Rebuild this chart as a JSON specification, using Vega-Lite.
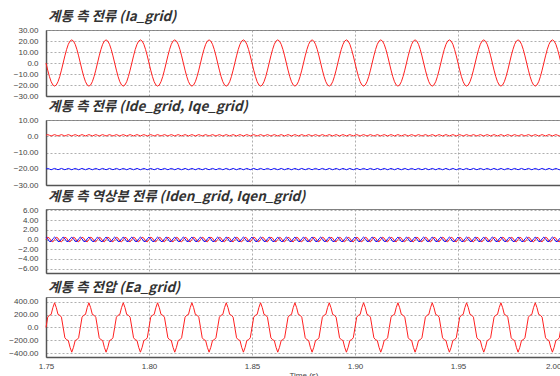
{
"$schema": "https://vega.github.io/schema/vega-lite/v6.json",
"background": "white",
"padding": {"left": 8, "top": 9, "right": 0, "bottom": 0},
"config": {
  "view": {"stroke": "#808080", "strokeWidth": 1},
  "axis": {"labelFont": "Liberation Sans", "labelFontSize": 8, "labelColor": "#444", "gridColor": "#9a9a9a", "gridDash": [2, 2], "gridWidth": 0.8, "ticks": false, "domain": true, "domainColor": "#555", "domainWidth": 1.5, "labelPadding": 8},
  "title": {"font": "Noto Sans CJK KR", "fontSize": 13.5, "fontStyle": "italic", "fontWeight": "bold", "color": "#333", "anchor": "start", "frame": "group", "offset": 3, "dx": 2},
  "line": {"strokeWidth": 1}
},
"datasets": {"w": [
{"t":1.75,"a":0,"e":0,"d":0.6,"q":-20.2,"m":0,"n":0.5},
{"t":1.75083,"a":-6.49,"e":160.4,"d":1,"q":-19.8,"m":0.48,"n":0.15},
{"t":1.75167,"a":-12.34,"e":191,"d":0.6,"q":-20.2,"m":0.29,"n":-0.4},
{"t":1.7525,"a":-16.99,"e":202.9,"d":0.2,"q":-20.6,"m":-0.29,"n":-0.4},
{"t":1.75333,"a":-19.97,"e":309.1,"d":0.6,"q":-20.2,"m":-0.48,"n":0.15},
{"t":1.75417,"a":-21,"e":385,"d":1,"q":-19.8,"m":0,"n":0.5},
{"t":1.755,"a":-19.97,"e":309.1,"d":0.6,"q":-20.2,"m":0.48,"n":0.15},
{"t":1.75583,"a":-16.99,"e":202.9,"d":0.2,"q":-20.6,"m":0.29,"n":-0.4},
{"t":1.75667,"a":-12.34,"e":191,"d":0.6,"q":-20.2,"m":-0.29,"n":-0.4},
{"t":1.7575,"a":-6.49,"e":160.4,"d":1,"q":-19.8,"m":-0.48,"n":0.15},
{"t":1.75833,"a":0,"e":0,"d":0.6,"q":-20.2,"m":0,"n":0.5},
{"t":1.75917,"a":6.49,"e":-160.4,"d":0.2,"q":-20.6,"m":0.48,"n":0.15},
{"t":1.76,"a":12.34,"e":-191,"d":0.6,"q":-20.2,"m":0.29,"n":-0.4},
{"t":1.76083,"a":16.99,"e":-202.9,"d":1,"q":-19.8,"m":-0.29,"n":-0.4},
{"t":1.76167,"a":19.97,"e":-309.1,"d":0.6,"q":-20.2,"m":-0.48,"n":0.15},
{"t":1.7625,"a":21,"e":-385,"d":0.2,"q":-20.6,"m":0,"n":0.5},
{"t":1.76333,"a":19.97,"e":-309.1,"d":0.6,"q":-20.2,"m":0.48,"n":0.15},
{"t":1.76417,"a":16.99,"e":-202.9,"d":1,"q":-19.8,"m":0.29,"n":-0.4},
{"t":1.765,"a":12.34,"e":-191,"d":0.6,"q":-20.2,"m":-0.29,"n":-0.4},
{"t":1.76583,"a":6.49,"e":-160.4,"d":0.2,"q":-20.6,"m":-0.48,"n":0.15},
{"t":1.76667,"a":0,"e":0,"d":0.6,"q":-20.2,"m":0,"n":0.5},
{"t":1.7675,"a":-6.49,"e":160.4,"d":1,"q":-19.8,"m":0.48,"n":0.15},
{"t":1.76833,"a":-12.34,"e":191,"d":0.6,"q":-20.2,"m":0.29,"n":-0.4},
{"t":1.76917,"a":-16.99,"e":202.9,"d":0.2,"q":-20.6,"m":-0.29,"n":-0.4},
{"t":1.77,"a":-19.97,"e":309.1,"d":0.6,"q":-20.2,"m":-0.48,"n":0.15},
{"t":1.77083,"a":-21,"e":385,"d":1,"q":-19.8,"m":0,"n":0.5},
{"t":1.77167,"a":-19.97,"e":309.1,"d":0.6,"q":-20.2,"m":0.48,"n":0.15},
{"t":1.7725,"a":-16.99,"e":202.9,"d":0.2,"q":-20.6,"m":0.29,"n":-0.4},
{"t":1.77333,"a":-12.34,"e":191,"d":0.6,"q":-20.2,"m":-0.29,"n":-0.4},
{"t":1.77417,"a":-6.49,"e":160.4,"d":1,"q":-19.8,"m":-0.48,"n":0.15},
{"t":1.775,"a":0,"e":0,"d":0.6,"q":-20.2,"m":0,"n":0.5},
{"t":1.77583,"a":6.49,"e":-160.4,"d":0.2,"q":-20.6,"m":0.48,"n":0.15},
{"t":1.77667,"a":12.34,"e":-191,"d":0.6,"q":-20.2,"m":0.29,"n":-0.4},
{"t":1.7775,"a":16.99,"e":-202.9,"d":1,"q":-19.8,"m":-0.29,"n":-0.4},
{"t":1.77833,"a":19.97,"e":-309.1,"d":0.6,"q":-20.2,"m":-0.48,"n":0.15},
{"t":1.77917,"a":21,"e":-385,"d":0.2,"q":-20.6,"m":0,"n":0.5},
{"t":1.78,"a":19.97,"e":-309.1,"d":0.6,"q":-20.2,"m":0.48,"n":0.15},
{"t":1.78083,"a":16.99,"e":-202.9,"d":1,"q":-19.8,"m":0.29,"n":-0.4},
{"t":1.78167,"a":12.34,"e":-191,"d":0.6,"q":-20.2,"m":-0.29,"n":-0.4},
{"t":1.7825,"a":6.49,"e":-160.4,"d":0.2,"q":-20.6,"m":-0.48,"n":0.15},
{"t":1.78333,"a":0,"e":0,"d":0.6,"q":-20.2,"m":0,"n":0.5},
{"t":1.78417,"a":-6.49,"e":160.4,"d":1,"q":-19.8,"m":0.48,"n":0.15},
{"t":1.785,"a":-12.34,"e":191,"d":0.6,"q":-20.2,"m":0.29,"n":-0.4},
{"t":1.78583,"a":-16.99,"e":202.9,"d":0.2,"q":-20.6,"m":-0.29,"n":-0.4},
{"t":1.78667,"a":-19.97,"e":309.1,"d":0.6,"q":-20.2,"m":-0.48,"n":0.15},
{"t":1.7875,"a":-21,"e":385,"d":1,"q":-19.8,"m":0,"n":0.5},
{"t":1.78833,"a":-19.97,"e":309.1,"d":0.6,"q":-20.2,"m":0.48,"n":0.15},
{"t":1.78917,"a":-16.99,"e":202.9,"d":0.2,"q":-20.6,"m":0.29,"n":-0.4},
{"t":1.79,"a":-12.34,"e":191,"d":0.6,"q":-20.2,"m":-0.29,"n":-0.4},
{"t":1.79083,"a":-6.49,"e":160.4,"d":1,"q":-19.8,"m":-0.48,"n":0.15},
{"t":1.79167,"a":0,"e":0,"d":0.6,"q":-20.2,"m":0,"n":0.5},
{"t":1.7925,"a":6.49,"e":-160.4,"d":0.2,"q":-20.6,"m":0.48,"n":0.15},
{"t":1.79333,"a":12.34,"e":-191,"d":0.6,"q":-20.2,"m":0.29,"n":-0.4},
{"t":1.79417,"a":16.99,"e":-202.9,"d":1,"q":-19.8,"m":-0.29,"n":-0.4},
{"t":1.795,"a":19.97,"e":-309.1,"d":0.6,"q":-20.2,"m":-0.48,"n":0.15},
{"t":1.79583,"a":21,"e":-385,"d":0.2,"q":-20.6,"m":0,"n":0.5},
{"t":1.79667,"a":19.97,"e":-309.1,"d":0.6,"q":-20.2,"m":0.48,"n":0.15},
{"t":1.7975,"a":16.99,"e":-202.9,"d":1,"q":-19.8,"m":0.29,"n":-0.4},
{"t":1.79833,"a":12.34,"e":-191,"d":0.6,"q":-20.2,"m":-0.29,"n":-0.4},
{"t":1.79917,"a":6.49,"e":-160.4,"d":0.2,"q":-20.6,"m":-0.48,"n":0.15},
{"t":1.8,"a":0,"e":0,"d":0.6,"q":-20.2,"m":0,"n":0.5},
{"t":1.80083,"a":-6.49,"e":160.4,"d":1,"q":-19.8,"m":0.48,"n":0.15},
{"t":1.80167,"a":-12.34,"e":191,"d":0.6,"q":-20.2,"m":0.29,"n":-0.4},
{"t":1.8025,"a":-16.99,"e":202.9,"d":0.2,"q":-20.6,"m":-0.29,"n":-0.4},
{"t":1.80333,"a":-19.97,"e":309.1,"d":0.6,"q":-20.2,"m":-0.48,"n":0.15},
{"t":1.80417,"a":-21,"e":385,"d":1,"q":-19.8,"m":0,"n":0.5},
{"t":1.805,"a":-19.97,"e":309.1,"d":0.6,"q":-20.2,"m":0.48,"n":0.15},
{"t":1.80583,"a":-16.99,"e":202.9,"d":0.2,"q":-20.6,"m":0.29,"n":-0.4},
{"t":1.80667,"a":-12.34,"e":191,"d":0.6,"q":-20.2,"m":-0.29,"n":-0.4},
{"t":1.8075,"a":-6.49,"e":160.4,"d":1,"q":-19.8,"m":-0.48,"n":0.15},
{"t":1.80833,"a":0,"e":0,"d":0.6,"q":-20.2,"m":0,"n":0.5},
{"t":1.80917,"a":6.49,"e":-160.4,"d":0.2,"q":-20.6,"m":0.48,"n":0.15},
{"t":1.81,"a":12.34,"e":-191,"d":0.6,"q":-20.2,"m":0.29,"n":-0.4},
{"t":1.81083,"a":16.99,"e":-202.9,"d":1,"q":-19.8,"m":-0.29,"n":-0.4},
{"t":1.81167,"a":19.97,"e":-309.1,"d":0.6,"q":-20.2,"m":-0.48,"n":0.15},
{"t":1.8125,"a":21,"e":-385,"d":0.2,"q":-20.6,"m":0,"n":0.5},
{"t":1.81333,"a":19.97,"e":-309.1,"d":0.6,"q":-20.2,"m":0.48,"n":0.15},
{"t":1.81417,"a":16.99,"e":-202.9,"d":1,"q":-19.8,"m":0.29,"n":-0.4},
{"t":1.815,"a":12.34,"e":-191,"d":0.6,"q":-20.2,"m":-0.29,"n":-0.4},
{"t":1.81583,"a":6.49,"e":-160.4,"d":0.2,"q":-20.6,"m":-0.48,"n":0.15},
{"t":1.81667,"a":0,"e":0,"d":0.6,"q":-20.2,"m":0,"n":0.5},
{"t":1.8175,"a":-6.49,"e":160.4,"d":1,"q":-19.8,"m":0.48,"n":0.15},
{"t":1.81833,"a":-12.34,"e":191,"d":0.6,"q":-20.2,"m":0.29,"n":-0.4},
{"t":1.81917,"a":-16.99,"e":202.9,"d":0.2,"q":-20.6,"m":-0.29,"n":-0.4},
{"t":1.82,"a":-19.97,"e":309.1,"d":0.6,"q":-20.2,"m":-0.48,"n":0.15},
{"t":1.82083,"a":-21,"e":385,"d":1,"q":-19.8,"m":0,"n":0.5},
{"t":1.82167,"a":-19.97,"e":309.1,"d":0.6,"q":-20.2,"m":0.48,"n":0.15},
{"t":1.8225,"a":-16.99,"e":202.9,"d":0.2,"q":-20.6,"m":0.29,"n":-0.4},
{"t":1.82333,"a":-12.34,"e":191,"d":0.6,"q":-20.2,"m":-0.29,"n":-0.4},
{"t":1.82417,"a":-6.49,"e":160.4,"d":1,"q":-19.8,"m":-0.48,"n":0.15},
{"t":1.825,"a":0,"e":0,"d":0.6,"q":-20.2,"m":0,"n":0.5},
{"t":1.82583,"a":6.49,"e":-160.4,"d":0.2,"q":-20.6,"m":0.48,"n":0.15},
{"t":1.82667,"a":12.34,"e":-191,"d":0.6,"q":-20.2,"m":0.29,"n":-0.4},
{"t":1.8275,"a":16.99,"e":-202.9,"d":1,"q":-19.8,"m":-0.29,"n":-0.4},
{"t":1.82833,"a":19.97,"e":-309.1,"d":0.6,"q":-20.2,"m":-0.48,"n":0.15},
{"t":1.82917,"a":21,"e":-385,"d":0.2,"q":-20.6,"m":0,"n":0.5},
{"t":1.83,"a":19.97,"e":-309.1,"d":0.6,"q":-20.2,"m":0.48,"n":0.15},
{"t":1.83083,"a":16.99,"e":-202.9,"d":1,"q":-19.8,"m":0.29,"n":-0.4},
{"t":1.83167,"a":12.34,"e":-191,"d":0.6,"q":-20.2,"m":-0.29,"n":-0.4},
{"t":1.8325,"a":6.49,"e":-160.4,"d":0.2,"q":-20.6,"m":-0.48,"n":0.15},
{"t":1.83333,"a":0,"e":0,"d":0.6,"q":-20.2,"m":0,"n":0.5},
{"t":1.83417,"a":-6.49,"e":160.4,"d":1,"q":-19.8,"m":0.48,"n":0.15},
{"t":1.835,"a":-12.34,"e":191,"d":0.6,"q":-20.2,"m":0.29,"n":-0.4},
{"t":1.83583,"a":-16.99,"e":202.9,"d":0.2,"q":-20.6,"m":-0.29,"n":-0.4},
{"t":1.83667,"a":-19.97,"e":309.1,"d":0.6,"q":-20.2,"m":-0.48,"n":0.15},
{"t":1.8375,"a":-21,"e":385,"d":1,"q":-19.8,"m":0,"n":0.5},
{"t":1.83833,"a":-19.97,"e":309.1,"d":0.6,"q":-20.2,"m":0.48,"n":0.15},
{"t":1.83917,"a":-16.99,"e":202.9,"d":0.2,"q":-20.6,"m":0.29,"n":-0.4},
{"t":1.84,"a":-12.34,"e":191,"d":0.6,"q":-20.2,"m":-0.29,"n":-0.4},
{"t":1.84083,"a":-6.49,"e":160.4,"d":1,"q":-19.8,"m":-0.48,"n":0.15},
{"t":1.84167,"a":0,"e":0,"d":0.6,"q":-20.2,"m":0,"n":0.5},
{"t":1.8425,"a":6.49,"e":-160.4,"d":0.2,"q":-20.6,"m":0.48,"n":0.15},
{"t":1.84333,"a":12.34,"e":-191,"d":0.6,"q":-20.2,"m":0.29,"n":-0.4},
{"t":1.84417,"a":16.99,"e":-202.9,"d":1,"q":-19.8,"m":-0.29,"n":-0.4},
{"t":1.845,"a":19.97,"e":-309.1,"d":0.6,"q":-20.2,"m":-0.48,"n":0.15},
{"t":1.84583,"a":21,"e":-385,"d":0.2,"q":-20.6,"m":0,"n":0.5},
{"t":1.84667,"a":19.97,"e":-309.1,"d":0.6,"q":-20.2,"m":0.48,"n":0.15},
{"t":1.8475,"a":16.99,"e":-202.9,"d":1,"q":-19.8,"m":0.29,"n":-0.4},
{"t":1.84833,"a":12.34,"e":-191,"d":0.6,"q":-20.2,"m":-0.29,"n":-0.4},
{"t":1.84917,"a":6.49,"e":-160.4,"d":0.2,"q":-20.6,"m":-0.48,"n":0.15},
{"t":1.85,"a":0,"e":0,"d":0.6,"q":-20.2,"m":0,"n":0.5},
{"t":1.85083,"a":-6.49,"e":160.4,"d":1,"q":-19.8,"m":0.48,"n":0.15},
{"t":1.85167,"a":-12.34,"e":191,"d":0.6,"q":-20.2,"m":0.29,"n":-0.4},
{"t":1.8525,"a":-16.99,"e":202.9,"d":0.2,"q":-20.6,"m":-0.29,"n":-0.4},
{"t":1.85333,"a":-19.97,"e":309.1,"d":0.6,"q":-20.2,"m":-0.48,"n":0.15},
{"t":1.85417,"a":-21,"e":385,"d":1,"q":-19.8,"m":0,"n":0.5},
{"t":1.855,"a":-19.97,"e":309.1,"d":0.6,"q":-20.2,"m":0.48,"n":0.15},
{"t":1.85583,"a":-16.99,"e":202.9,"d":0.2,"q":-20.6,"m":0.29,"n":-0.4},
{"t":1.85667,"a":-12.34,"e":191,"d":0.6,"q":-20.2,"m":-0.29,"n":-0.4},
{"t":1.8575,"a":-6.49,"e":160.4,"d":1,"q":-19.8,"m":-0.48,"n":0.15},
{"t":1.85833,"a":0,"e":0,"d":0.6,"q":-20.2,"m":0,"n":0.5},
{"t":1.85917,"a":6.49,"e":-160.4,"d":0.2,"q":-20.6,"m":0.48,"n":0.15},
{"t":1.86,"a":12.34,"e":-191,"d":0.6,"q":-20.2,"m":0.29,"n":-0.4},
{"t":1.86083,"a":16.99,"e":-202.9,"d":1,"q":-19.8,"m":-0.29,"n":-0.4},
{"t":1.86167,"a":19.97,"e":-309.1,"d":0.6,"q":-20.2,"m":-0.48,"n":0.15},
{"t":1.8625,"a":21,"e":-385,"d":0.2,"q":-20.6,"m":0,"n":0.5},
{"t":1.86333,"a":19.97,"e":-309.1,"d":0.6,"q":-20.2,"m":0.48,"n":0.15},
{"t":1.86417,"a":16.99,"e":-202.9,"d":1,"q":-19.8,"m":0.29,"n":-0.4},
{"t":1.865,"a":12.34,"e":-191,"d":0.6,"q":-20.2,"m":-0.29,"n":-0.4},
{"t":1.86583,"a":6.49,"e":-160.4,"d":0.2,"q":-20.6,"m":-0.48,"n":0.15},
{"t":1.86667,"a":0,"e":0,"d":0.6,"q":-20.2,"m":0,"n":0.5},
{"t":1.8675,"a":-6.49,"e":160.4,"d":1,"q":-19.8,"m":0.48,"n":0.15},
{"t":1.86833,"a":-12.34,"e":191,"d":0.6,"q":-20.2,"m":0.29,"n":-0.4},
{"t":1.86917,"a":-16.99,"e":202.9,"d":0.2,"q":-20.6,"m":-0.29,"n":-0.4},
{"t":1.87,"a":-19.97,"e":309.1,"d":0.6,"q":-20.2,"m":-0.48,"n":0.15},
{"t":1.87083,"a":-21,"e":385,"d":1,"q":-19.8,"m":0,"n":0.5},
{"t":1.87167,"a":-19.97,"e":309.1,"d":0.6,"q":-20.2,"m":0.48,"n":0.15},
{"t":1.8725,"a":-16.99,"e":202.9,"d":0.2,"q":-20.6,"m":0.29,"n":-0.4},
{"t":1.87333,"a":-12.34,"e":191,"d":0.6,"q":-20.2,"m":-0.29,"n":-0.4},
{"t":1.87417,"a":-6.49,"e":160.4,"d":1,"q":-19.8,"m":-0.48,"n":0.15},
{"t":1.875,"a":0,"e":0,"d":0.6,"q":-20.2,"m":0,"n":0.5},
{"t":1.87583,"a":6.49,"e":-160.4,"d":0.2,"q":-20.6,"m":0.48,"n":0.15},
{"t":1.87667,"a":12.34,"e":-191,"d":0.6,"q":-20.2,"m":0.29,"n":-0.4},
{"t":1.8775,"a":16.99,"e":-202.9,"d":1,"q":-19.8,"m":-0.29,"n":-0.4},
{"t":1.87833,"a":19.97,"e":-309.1,"d":0.6,"q":-20.2,"m":-0.48,"n":0.15},
{"t":1.87917,"a":21,"e":-385,"d":0.2,"q":-20.6,"m":0,"n":0.5},
{"t":1.88,"a":19.97,"e":-309.1,"d":0.6,"q":-20.2,"m":0.48,"n":0.15},
{"t":1.88083,"a":16.99,"e":-202.9,"d":1,"q":-19.8,"m":0.29,"n":-0.4},
{"t":1.88167,"a":12.34,"e":-191,"d":0.6,"q":-20.2,"m":-0.29,"n":-0.4},
{"t":1.8825,"a":6.49,"e":-160.4,"d":0.2,"q":-20.6,"m":-0.48,"n":0.15},
{"t":1.88333,"a":0,"e":0,"d":0.6,"q":-20.2,"m":0,"n":0.5},
{"t":1.88417,"a":-6.49,"e":160.4,"d":1,"q":-19.8,"m":0.48,"n":0.15},
{"t":1.885,"a":-12.34,"e":191,"d":0.6,"q":-20.2,"m":0.29,"n":-0.4},
{"t":1.88583,"a":-16.99,"e":202.9,"d":0.2,"q":-20.6,"m":-0.29,"n":-0.4},
{"t":1.88667,"a":-19.97,"e":309.1,"d":0.6,"q":-20.2,"m":-0.48,"n":0.15},
{"t":1.8875,"a":-21,"e":385,"d":1,"q":-19.8,"m":0,"n":0.5},
{"t":1.88833,"a":-19.97,"e":309.1,"d":0.6,"q":-20.2,"m":0.48,"n":0.15},
{"t":1.88917,"a":-16.99,"e":202.9,"d":0.2,"q":-20.6,"m":0.29,"n":-0.4},
{"t":1.89,"a":-12.34,"e":191,"d":0.6,"q":-20.2,"m":-0.29,"n":-0.4},
{"t":1.89083,"a":-6.49,"e":160.4,"d":1,"q":-19.8,"m":-0.48,"n":0.15},
{"t":1.89167,"a":0,"e":0,"d":0.6,"q":-20.2,"m":0,"n":0.5},
{"t":1.8925,"a":6.49,"e":-160.4,"d":0.2,"q":-20.6,"m":0.48,"n":0.15},
{"t":1.89333,"a":12.34,"e":-191,"d":0.6,"q":-20.2,"m":0.29,"n":-0.4},
{"t":1.89417,"a":16.99,"e":-202.9,"d":1,"q":-19.8,"m":-0.29,"n":-0.4},
{"t":1.895,"a":19.97,"e":-309.1,"d":0.6,"q":-20.2,"m":-0.48,"n":0.15},
{"t":1.89583,"a":21,"e":-385,"d":0.2,"q":-20.6,"m":0,"n":0.5},
{"t":1.89667,"a":19.97,"e":-309.1,"d":0.6,"q":-20.2,"m":0.48,"n":0.15},
{"t":1.8975,"a":16.99,"e":-202.9,"d":1,"q":-19.8,"m":0.29,"n":-0.4},
{"t":1.89833,"a":12.34,"e":-191,"d":0.6,"q":-20.2,"m":-0.29,"n":-0.4},
{"t":1.89917,"a":6.49,"e":-160.4,"d":0.2,"q":-20.6,"m":-0.48,"n":0.15},
{"t":1.9,"a":0,"e":0,"d":0.6,"q":-20.2,"m":0,"n":0.5},
{"t":1.90083,"a":-6.49,"e":160.4,"d":1,"q":-19.8,"m":0.48,"n":0.15},
{"t":1.90167,"a":-12.34,"e":191,"d":0.6,"q":-20.2,"m":0.29,"n":-0.4},
{"t":1.9025,"a":-16.99,"e":202.9,"d":0.2,"q":-20.6,"m":-0.29,"n":-0.4},
{"t":1.90333,"a":-19.97,"e":309.1,"d":0.6,"q":-20.2,"m":-0.48,"n":0.15},
{"t":1.90417,"a":-21,"e":385,"d":1,"q":-19.8,"m":0,"n":0.5},
{"t":1.905,"a":-19.97,"e":309.1,"d":0.6,"q":-20.2,"m":0.48,"n":0.15},
{"t":1.90583,"a":-16.99,"e":202.9,"d":0.2,"q":-20.6,"m":0.29,"n":-0.4},
{"t":1.90667,"a":-12.34,"e":191,"d":0.6,"q":-20.2,"m":-0.29,"n":-0.4},
{"t":1.9075,"a":-6.49,"e":160.4,"d":1,"q":-19.8,"m":-0.48,"n":0.15},
{"t":1.90833,"a":0,"e":0,"d":0.6,"q":-20.2,"m":0,"n":0.5},
{"t":1.90917,"a":6.49,"e":-160.4,"d":0.2,"q":-20.6,"m":0.48,"n":0.15},
{"t":1.91,"a":12.34,"e":-191,"d":0.6,"q":-20.2,"m":0.29,"n":-0.4},
{"t":1.91083,"a":16.99,"e":-202.9,"d":1,"q":-19.8,"m":-0.29,"n":-0.4},
{"t":1.91167,"a":19.97,"e":-309.1,"d":0.6,"q":-20.2,"m":-0.48,"n":0.15},
{"t":1.9125,"a":21,"e":-385,"d":0.2,"q":-20.6,"m":0,"n":0.5},
{"t":1.91333,"a":19.97,"e":-309.1,"d":0.6,"q":-20.2,"m":0.48,"n":0.15},
{"t":1.91417,"a":16.99,"e":-202.9,"d":1,"q":-19.8,"m":0.29,"n":-0.4},
{"t":1.915,"a":12.34,"e":-191,"d":0.6,"q":-20.2,"m":-0.29,"n":-0.4},
{"t":1.91583,"a":6.49,"e":-160.4,"d":0.2,"q":-20.6,"m":-0.48,"n":0.15},
{"t":1.91667,"a":0,"e":0,"d":0.6,"q":-20.2,"m":0,"n":0.5},
{"t":1.9175,"a":-6.49,"e":160.4,"d":1,"q":-19.8,"m":0.48,"n":0.15},
{"t":1.91833,"a":-12.34,"e":191,"d":0.6,"q":-20.2,"m":0.29,"n":-0.4},
{"t":1.91917,"a":-16.99,"e":202.9,"d":0.2,"q":-20.6,"m":-0.29,"n":-0.4},
{"t":1.92,"a":-19.97,"e":309.1,"d":0.6,"q":-20.2,"m":-0.48,"n":0.15},
{"t":1.92083,"a":-21,"e":385,"d":1,"q":-19.8,"m":0,"n":0.5},
{"t":1.92167,"a":-19.97,"e":309.1,"d":0.6,"q":-20.2,"m":0.48,"n":0.15},
{"t":1.9225,"a":-16.99,"e":202.9,"d":0.2,"q":-20.6,"m":0.29,"n":-0.4},
{"t":1.92333,"a":-12.34,"e":191,"d":0.6,"q":-20.2,"m":-0.29,"n":-0.4},
{"t":1.92417,"a":-6.49,"e":160.4,"d":1,"q":-19.8,"m":-0.48,"n":0.15},
{"t":1.925,"a":0,"e":0,"d":0.6,"q":-20.2,"m":0,"n":0.5},
{"t":1.92583,"a":6.49,"e":-160.4,"d":0.2,"q":-20.6,"m":0.48,"n":0.15},
{"t":1.92667,"a":12.34,"e":-191,"d":0.6,"q":-20.2,"m":0.29,"n":-0.4},
{"t":1.9275,"a":16.99,"e":-202.9,"d":1,"q":-19.8,"m":-0.29,"n":-0.4},
{"t":1.92833,"a":19.97,"e":-309.1,"d":0.6,"q":-20.2,"m":-0.48,"n":0.15},
{"t":1.92917,"a":21,"e":-385,"d":0.2,"q":-20.6,"m":0,"n":0.5},
{"t":1.93,"a":19.97,"e":-309.1,"d":0.6,"q":-20.2,"m":0.48,"n":0.15},
{"t":1.93083,"a":16.99,"e":-202.9,"d":1,"q":-19.8,"m":0.29,"n":-0.4},
{"t":1.93167,"a":12.34,"e":-191,"d":0.6,"q":-20.2,"m":-0.29,"n":-0.4},
{"t":1.9325,"a":6.49,"e":-160.4,"d":0.2,"q":-20.6,"m":-0.48,"n":0.15},
{"t":1.93333,"a":0,"e":0,"d":0.6,"q":-20.2,"m":0,"n":0.5},
{"t":1.93417,"a":-6.49,"e":160.4,"d":1,"q":-19.8,"m":0.48,"n":0.15},
{"t":1.935,"a":-12.34,"e":191,"d":0.6,"q":-20.2,"m":0.29,"n":-0.4},
{"t":1.93583,"a":-16.99,"e":202.9,"d":0.2,"q":-20.6,"m":-0.29,"n":-0.4},
{"t":1.93667,"a":-19.97,"e":309.1,"d":0.6,"q":-20.2,"m":-0.48,"n":0.15},
{"t":1.9375,"a":-21,"e":385,"d":1,"q":-19.8,"m":0,"n":0.5},
{"t":1.93833,"a":-19.97,"e":309.1,"d":0.6,"q":-20.2,"m":0.48,"n":0.15},
{"t":1.93917,"a":-16.99,"e":202.9,"d":0.2,"q":-20.6,"m":0.29,"n":-0.4},
{"t":1.94,"a":-12.34,"e":191,"d":0.6,"q":-20.2,"m":-0.29,"n":-0.4},
{"t":1.94083,"a":-6.49,"e":160.4,"d":1,"q":-19.8,"m":-0.48,"n":0.15},
{"t":1.94167,"a":0,"e":0,"d":0.6,"q":-20.2,"m":0,"n":0.5},
{"t":1.9425,"a":6.49,"e":-160.4,"d":0.2,"q":-20.6,"m":0.48,"n":0.15},
{"t":1.94333,"a":12.34,"e":-191,"d":0.6,"q":-20.2,"m":0.29,"n":-0.4},
{"t":1.94417,"a":16.99,"e":-202.9,"d":1,"q":-19.8,"m":-0.29,"n":-0.4},
{"t":1.945,"a":19.97,"e":-309.1,"d":0.6,"q":-20.2,"m":-0.48,"n":0.15},
{"t":1.94583,"a":21,"e":-385,"d":0.2,"q":-20.6,"m":0,"n":0.5},
{"t":1.94667,"a":19.97,"e":-309.1,"d":0.6,"q":-20.2,"m":0.48,"n":0.15},
{"t":1.9475,"a":16.99,"e":-202.9,"d":1,"q":-19.8,"m":0.29,"n":-0.4},
{"t":1.94833,"a":12.34,"e":-191,"d":0.6,"q":-20.2,"m":-0.29,"n":-0.4},
{"t":1.94917,"a":6.49,"e":-160.4,"d":0.2,"q":-20.6,"m":-0.48,"n":0.15},
{"t":1.95,"a":0,"e":0,"d":0.6,"q":-20.2,"m":0,"n":0.5},
{"t":1.95083,"a":-6.49,"e":160.4,"d":1,"q":-19.8,"m":0.48,"n":0.15},
{"t":1.95167,"a":-12.34,"e":191,"d":0.6,"q":-20.2,"m":0.29,"n":-0.4},
{"t":1.9525,"a":-16.99,"e":202.9,"d":0.2,"q":-20.6,"m":-0.29,"n":-0.4},
{"t":1.95333,"a":-19.97,"e":309.1,"d":0.6,"q":-20.2,"m":-0.48,"n":0.15},
{"t":1.95417,"a":-21,"e":385,"d":1,"q":-19.8,"m":0,"n":0.5},
{"t":1.955,"a":-19.97,"e":309.1,"d":0.6,"q":-20.2,"m":0.48,"n":0.15},
{"t":1.95583,"a":-16.99,"e":202.9,"d":0.2,"q":-20.6,"m":0.29,"n":-0.4},
{"t":1.95667,"a":-12.34,"e":191,"d":0.6,"q":-20.2,"m":-0.29,"n":-0.4},
{"t":1.9575,"a":-6.49,"e":160.4,"d":1,"q":-19.8,"m":-0.48,"n":0.15},
{"t":1.95833,"a":0,"e":0,"d":0.6,"q":-20.2,"m":0,"n":0.5},
{"t":1.95917,"a":6.49,"e":-160.4,"d":0.2,"q":-20.6,"m":0.48,"n":0.15},
{"t":1.96,"a":12.34,"e":-191,"d":0.6,"q":-20.2,"m":0.29,"n":-0.4},
{"t":1.96083,"a":16.99,"e":-202.9,"d":1,"q":-19.8,"m":-0.29,"n":-0.4},
{"t":1.96167,"a":19.97,"e":-309.1,"d":0.6,"q":-20.2,"m":-0.48,"n":0.15},
{"t":1.9625,"a":21,"e":-385,"d":0.2,"q":-20.6,"m":0,"n":0.5},
{"t":1.96333,"a":19.97,"e":-309.1,"d":0.6,"q":-20.2,"m":0.48,"n":0.15},
{"t":1.96417,"a":16.99,"e":-202.9,"d":1,"q":-19.8,"m":0.29,"n":-0.4},
{"t":1.965,"a":12.34,"e":-191,"d":0.6,"q":-20.2,"m":-0.29,"n":-0.4},
{"t":1.96583,"a":6.49,"e":-160.4,"d":0.2,"q":-20.6,"m":-0.48,"n":0.15},
{"t":1.96667,"a":0,"e":0,"d":0.6,"q":-20.2,"m":0,"n":0.5},
{"t":1.9675,"a":-6.49,"e":160.4,"d":1,"q":-19.8,"m":0.48,"n":0.15},
{"t":1.96833,"a":-12.34,"e":191,"d":0.6,"q":-20.2,"m":0.29,"n":-0.4},
{"t":1.96917,"a":-16.99,"e":202.9,"d":0.2,"q":-20.6,"m":-0.29,"n":-0.4},
{"t":1.97,"a":-19.97,"e":309.1,"d":0.6,"q":-20.2,"m":-0.48,"n":0.15},
{"t":1.97083,"a":-21,"e":385,"d":1,"q":-19.8,"m":0,"n":0.5},
{"t":1.97167,"a":-19.97,"e":309.1,"d":0.6,"q":-20.2,"m":0.48,"n":0.15},
{"t":1.9725,"a":-16.99,"e":202.9,"d":0.2,"q":-20.6,"m":0.29,"n":-0.4},
{"t":1.97333,"a":-12.34,"e":191,"d":0.6,"q":-20.2,"m":-0.29,"n":-0.4},
{"t":1.97417,"a":-6.49,"e":160.4,"d":1,"q":-19.8,"m":-0.48,"n":0.15},
{"t":1.975,"a":0,"e":0,"d":0.6,"q":-20.2,"m":0,"n":0.5},
{"t":1.97583,"a":6.49,"e":-160.4,"d":0.2,"q":-20.6,"m":0.48,"n":0.15},
{"t":1.97667,"a":12.34,"e":-191,"d":0.6,"q":-20.2,"m":0.29,"n":-0.4},
{"t":1.9775,"a":16.99,"e":-202.9,"d":1,"q":-19.8,"m":-0.29,"n":-0.4},
{"t":1.97833,"a":19.97,"e":-309.1,"d":0.6,"q":-20.2,"m":-0.48,"n":0.15},
{"t":1.97917,"a":21,"e":-385,"d":0.2,"q":-20.6,"m":0,"n":0.5},
{"t":1.98,"a":19.97,"e":-309.1,"d":0.6,"q":-20.2,"m":0.48,"n":0.15},
{"t":1.98083,"a":16.99,"e":-202.9,"d":1,"q":-19.8,"m":0.29,"n":-0.4},
{"t":1.98167,"a":12.34,"e":-191,"d":0.6,"q":-20.2,"m":-0.29,"n":-0.4},
{"t":1.9825,"a":6.49,"e":-160.4,"d":0.2,"q":-20.6,"m":-0.48,"n":0.15},
{"t":1.98333,"a":0,"e":0,"d":0.6,"q":-20.2,"m":0,"n":0.5},
{"t":1.98417,"a":-6.49,"e":160.4,"d":1,"q":-19.8,"m":0.48,"n":0.15},
{"t":1.985,"a":-12.34,"e":191,"d":0.6,"q":-20.2,"m":0.29,"n":-0.4},
{"t":1.98583,"a":-16.99,"e":202.9,"d":0.2,"q":-20.6,"m":-0.29,"n":-0.4},
{"t":1.98667,"a":-19.97,"e":309.1,"d":0.6,"q":-20.2,"m":-0.48,"n":0.15},
{"t":1.9875,"a":-21,"e":385,"d":1,"q":-19.8,"m":0,"n":0.5},
{"t":1.98833,"a":-19.97,"e":309.1,"d":0.6,"q":-20.2,"m":0.48,"n":0.15},
{"t":1.98917,"a":-16.99,"e":202.9,"d":0.2,"q":-20.6,"m":0.29,"n":-0.4},
{"t":1.99,"a":-12.34,"e":191,"d":0.6,"q":-20.2,"m":-0.29,"n":-0.4},
{"t":1.99083,"a":-6.49,"e":160.4,"d":1,"q":-19.8,"m":-0.48,"n":0.15},
{"t":1.99167,"a":0,"e":0,"d":0.6,"q":-20.2,"m":0,"n":0.5},
{"t":1.9925,"a":6.49,"e":-160.4,"d":0.2,"q":-20.6,"m":0.48,"n":0.15},
{"t":1.99333,"a":12.34,"e":-191,"d":0.6,"q":-20.2,"m":0.29,"n":-0.4},
{"t":1.99417,"a":16.99,"e":-202.9,"d":1,"q":-19.8,"m":-0.29,"n":-0.4},
{"t":1.995,"a":19.97,"e":-309.1,"d":0.6,"q":-20.2,"m":-0.48,"n":0.15},
{"t":1.99583,"a":21,"e":-385,"d":0.2,"q":-20.6,"m":0,"n":0.5},
{"t":1.99667,"a":19.97,"e":-309.1,"d":0.6,"q":-20.2,"m":0.48,"n":0.15},
{"t":1.9975,"a":16.99,"e":-202.9,"d":1,"q":-19.8,"m":0.29,"n":-0.4},
{"t":1.99833,"a":12.34,"e":-191,"d":0.6,"q":-20.2,"m":-0.29,"n":-0.4},
{"t":1.99917,"a":6.49,"e":-160.4,"d":0.2,"q":-20.6,"m":-0.48,"n":0.15},
{"t":2.0,"a":0,"e":0,"d":0.6,"q":-20.2,"m":0,"n":0.5}
]},
"spacing": 24,
"bounds": "flush",
"vconcat": [
  {
    "width": 515, "height": 66,
    "title": "계통 측 전류 (Ia_grid)",
    "data": {"name": "w"},
    "mark": {"type": "line", "color": "#ff2020", "strokeWidth": 1},
    "encoding": {
      "x": {"field": "t", "type": "quantitative", "scale": {"domain": [1.75, 2.0], "nice": false, "zero": false}, "axis": {"values": [1.75, 1.8, 1.85, 1.9, 1.95, 2.0], "labels": false, "title": null, "grid": true}},
      "y": {"field": "a", "type": "quantitative", "scale": {"domain": [-30, 30], "nice": false}, "axis": {"values": [-30, -20, -10, 0, 10, 20, 30], "title": null, "labelExpr": "datum.value == 0 ? '0.0' : format(datum.value, '.2f')"}}
    }
  },
  {
    "width": 515, "height": 65,
    "title": "계통 측 전류 (Ide_grid, Iqe_grid)",
    "data": {"name": "w"},
    "transform": [{"fold": ["d", "q"], "as": ["s", "v"]}],
    "mark": {"type": "line", "strokeWidth": 1},
    "encoding": {
      "x": {"field": "t", "type": "quantitative", "scale": {"domain": [1.75, 2.0], "nice": false, "zero": false}, "axis": {"values": [1.75, 1.8, 1.85, 1.9, 1.95, 2.0], "labels": false, "title": null, "grid": true}},
      "y": {"field": "v", "type": "quantitative", "scale": {"domain": [-30, 10], "nice": false}, "axis": {"values": [-30, -20, -10, 0, 10], "title": null, "labelExpr": "datum.value == 0 ? '0.0' : format(datum.value, '.2f')"}},
      "color": {"field": "s", "type": "nominal", "scale": {"domain": ["d", "q"], "range": ["#ff2020", "#1010ff"]}, "legend": null}
    }
  },
  {
    "width": 515, "height": 64,
    "title": "계통 측 역상분 전류 (Iden_grid, Iqen_grid)",
    "data": {"name": "w"},
    "transform": [{"fold": ["m", "n"], "as": ["s", "v"]}],
    "mark": {"type": "line", "strokeWidth": 1},
    "encoding": {
      "x": {"field": "t", "type": "quantitative", "scale": {"domain": [1.75, 2.0], "nice": false, "zero": false}, "axis": {"values": [1.75, 1.8, 1.85, 1.9, 1.95, 2.0], "labels": false, "title": null, "grid": true}},
      "y": {"field": "v", "type": "quantitative", "scale": {"domain": [-6.9, 6.3], "nice": false}, "axis": {"values": [-6, -4, -2, 0, 2, 4, 6], "title": null, "labelExpr": "datum.value == 0 ? '0.0' : format(datum.value, '.2f')"}},
      "color": {"field": "s", "type": "nominal", "scale": {"domain": ["m", "n"], "range": ["#ff2020", "#1010ff"]}, "legend": null}
    }
  },
  {
    "width": 515, "height": 60,
    "title": "계통 측 전압 (Ea_grid)",
    "data": {"name": "w"},
    "mark": {"type": "line", "color": "#ff2020", "strokeWidth": 1},
    "encoding": {
      "x": {"field": "t", "type": "quantitative", "scale": {"domain": [1.75, 2.0], "nice": false, "zero": false}, "axis": {"values": [1.75, 1.8, 1.85, 1.9, 1.95, 2.0], "format": ".2f", "labelFlush": false, "labelPadding": 5, "labelAlign": {"condition": {"test": "datum.value > 1.999", "value": "right"}, "value": "center"}, "title": "Time (s)", "titleFont": "Liberation Sans", "titleFontSize": 8, "titleFontWeight": "normal", "titleColor": "#444", "titlePadding": 1, "grid": true}},
      "y": {"field": "e", "type": "quantitative", "scale": {"domain": [-460, 475], "nice": false}, "axis": {"values": [-400, -200, 0, 200, 400], "title": null, "labelExpr": "datum.value == 0 ? '0.0' : format(datum.value, '.2f')"}}
    }
  }
]
}
